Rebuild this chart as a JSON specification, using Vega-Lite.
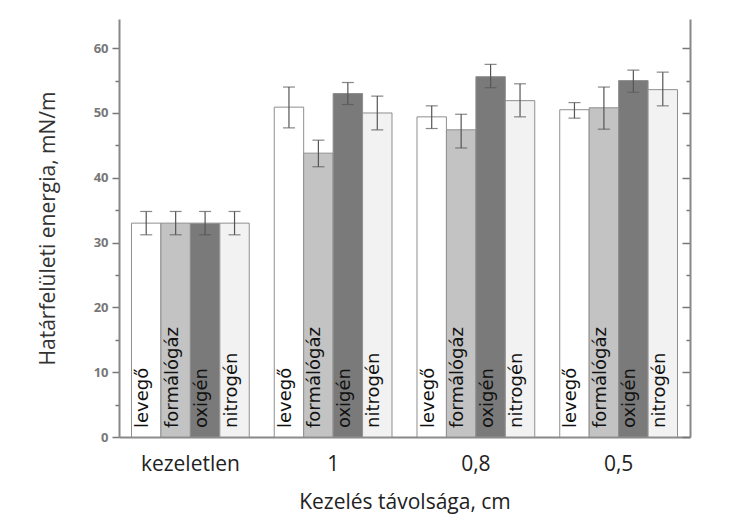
{
  "$schema": "https://vega.github.io/schema/vega-lite/v6.json",
  "autosize": {"type": "none"},
  "padding": {"left": 119, "top": 19, "right": 47, "bottom": 83},
  "width": 571,
  "height": 418,
  "background": "white",
  "config": {
    "view": {"stroke": null},
    "font": "Open Sans",
    "axis": {"labelFont": "Open Sans", "titleFont": "Open Sans", "titleFontWeight": "normal"}
  },
  "data": {
    "values": [
      {"group": "kezeletlen", "gas": "levegő", "value": 33, "lo": 31.2, "hi": 34.8},
      {"group": "kezeletlen", "gas": "formálógáz", "value": 33, "lo": 31.2, "hi": 34.8},
      {"group": "kezeletlen", "gas": "oxigén", "value": 33, "lo": 31.2, "hi": 34.8},
      {"group": "kezeletlen", "gas": "nitrogén", "value": 33, "lo": 31.2, "hi": 34.8},
      {"group": "1", "gas": "levegő", "value": 50.9, "lo": 47.7, "hi": 54.0},
      {"group": "1", "gas": "formálógáz", "value": 43.8, "lo": 41.7, "hi": 45.8},
      {"group": "1", "gas": "oxigén", "value": 53.0, "lo": 51.3, "hi": 54.7},
      {"group": "1", "gas": "nitrogén", "value": 50.0, "lo": 47.4, "hi": 52.6},
      {"group": "0,8", "gas": "levegő", "value": 49.4, "lo": 47.6, "hi": 51.1},
      {"group": "0,8", "gas": "formálógáz", "value": 47.4, "lo": 44.6, "hi": 49.8},
      {"group": "0,8", "gas": "oxigén", "value": 55.6, "lo": 53.9, "hi": 57.5},
      {"group": "0,8", "gas": "nitrogén", "value": 51.9, "lo": 49.4, "hi": 54.5},
      {"group": "0,5", "gas": "levegő", "value": 50.5, "lo": 49.2, "hi": 51.6},
      {"group": "0,5", "gas": "formálógáz", "value": 50.8, "lo": 47.5, "hi": 54.0},
      {"group": "0,5", "gas": "oxigén", "value": 55.0, "lo": 53.2, "hi": 56.6},
      {"group": "0,5", "gas": "nitrogén", "value": 53.6, "lo": 51.1, "hi": 56.3}
    ]
  },
  "encoding": {
    "x": {
      "field": "group", "type": "nominal",
      "sort": ["kezeletlen", "1", "0,8", "0,5"],
      "scale": {"paddingInner": 0.175, "paddingOuter": 0.0875},
      "axis": {
        "title": "Kezelés távolsága, cm", "labelAngle": 0, "ticks": false,
        "domainColor": "#888888", "domainWidth": 2,
        "labelFontSize": 21, "labelColor": "#222222", "labelPadding": 16,
        "titleFontSize": 21, "titleColor": "#222222", "titlePadding": 17
      }
    },
    "xOffset": {"field": "gas", "type": "nominal", "sort": ["levegő", "formálógáz", "oxigén", "nitrogén"]}
  },
  "layer": [
    {
      "mark": {"type": "bar", "stroke": "#8f8f8f", "strokeWidth": 1},
      "encoding": {
        "y": {
          "field": "value", "type": "quantitative",
          "scale": {"domain": [0, 64.5], "nice": false},
          "axis": {
            "orient": "left",
            "title": "Határfelületi energia, mN/m",
            "values": [0, 5, 10, 15, 20, 25, 30, 35, 40, 45, 50, 55, 60],
            "labelExpr": "datum.value % 10 === 0 ? datum.label : ''",
            "tickSize": {"condition": {"test": "datum.value % 10 === 0", "value": 7}, "value": 4},
            "tickColor": "#777777", "tickWidth": 1.5,
            "domainColor": "#888888", "domainWidth": 2,
            "labelFontSize": 13, "labelFontWeight": "bold", "labelColor": "#777777", "labelPadding": 4,
            "titleFontSize": 21, "titleColor": "#333333", "titlePadding": 35,
            "grid": false
          }
        },
        "fill": {
          "field": "gas", "type": "nominal",
          "scale": {"domain": ["levegő", "formálógáz", "oxigén", "nitrogén"], "range": ["#ffffff", "#c3c3c3", "#7a7a7a", "#f2f2f2"]},
          "legend": null
        }
      }
    },
    {
      "mark": {"type": "rule", "color": "#555555", "strokeWidth": 1.2},
      "encoding": {
        "y": {
          "field": "lo", "type": "quantitative",
          "axis": {
            "orient": "right", "title": null,
            "values": [0, 5, 10, 15, 20, 25, 30, 35, 40, 45, 50, 55, 60],
            "labels": false,
            "tickSize": {"condition": {"test": "datum.value % 10 === 0", "value": -8}, "value": -4},
            "tickColor": "#777777", "tickWidth": 1.5,
            "domainColor": "#888888", "domainWidth": 2, "grid": false
          }
        },
        "y2": {"field": "hi"}
      }
    },
    {
      "mark": {"type": "tick", "color": "#555555", "size": 12, "thickness": 1.2},
      "encoding": {"y": {"field": "lo", "type": "quantitative", "axis": null}}
    },
    {
      "mark": {"type": "tick", "color": "#555555", "size": 12, "thickness": 1.2},
      "encoding": {"y": {"field": "hi", "type": "quantitative", "axis": null}}
    },
    {
      "mark": {"type": "text", "angle": 270, "align": "left", "baseline": "middle", "font": "DejaVu Sans", "fontSize": 18, "color": "#111111", "dy": -3, "dx": 9},
      "encoding": {
        "y": {"datum": 0, "type": "quantitative", "axis": null},
        "text": {"field": "gas"}
      }
    }
  ],
  "resolve": {"axis": {"y": "independent"}, "scale": {"y": "shared"}}
}
